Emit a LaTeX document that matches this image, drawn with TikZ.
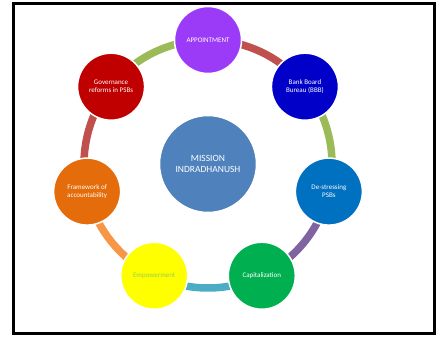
\documentclass[tikz,border=0pt]{standalone}
\usepackage{fontspec}
\setmainfont{Carlito}
\definecolor{cAppt}{HTML}{9B3BF7}
\definecolor{cBBB}{HTML}{0000C8}
\definecolor{cDes}{HTML}{0070C0}
\definecolor{cCap}{HTML}{00B050}
\definecolor{cEmp}{HTML}{FFFF00}
\definecolor{cEmpText}{HTML}{92D050}
\definecolor{cFra}{HTML}{E46C0A}
\definecolor{cGov}{HTML}{C00000}
\definecolor{cMid}{HTML}{4F81BD}
\definecolor{aRed}{HTML}{C0504D}
\definecolor{aGreen}{HTML}{9BBB59}
\definecolor{aPurple}{HTML}{8064A2}
\definecolor{aAqua}{HTML}{4BACC6}
\definecolor{aOrange}{HTML}{F79646}
\begin{document}
\begin{tikzpicture}[x=1pt,y=1pt,
  item/.style={circle,draw=white,line width=1.5pt,minimum size=67pt,inner sep=0pt,
    align=center,text=white,font=\fontsize{7}{8}\selectfont},
  hub/.style={circle,draw=white,line width=1.5pt,minimum size=97pt,inner sep=0pt,
    align=center,text=white,font=\fontsize{9.5}{11.5}\selectfont},
  band/.style={line width=7.5pt}]
\useasboundingbox (0,0) rectangle (441,337);
\fill[white] (0,0) rectangle (441,337);
\draw[line width=3pt] (13.5,3.5) rectangle (434.5,333.5);
\coordinate (O) at (208,173);
\def\RR{124pt}
\path (O) ++(90:\RR) coordinate (pA);
\path (O) ++(38.571:\RR) coordinate (pB);
\path (O) ++(-12.857:\RR) coordinate (pD);
\path (O) ++(-64.286:\RR) coordinate (pC);
\path (O) ++(-115.714:\RR) coordinate (pE);
\path (O) ++(-167.143:\RR) coordinate (pF);
\path (O) ++(141.429:\RR) coordinate (pG);
% bands
\draw[band,aRed] (pA) arc[start angle=90,end angle=38.571,radius=\RR];
\draw[band,aGreen] (pB) arc[start angle=38.571,end angle=-12.857,radius=\RR];
\draw[band,aPurple] (pD) arc[start angle=-12.857,end angle=-64.286,radius=\RR];
\draw[band,aAqua] (pC) arc[start angle=-64.286,end angle=-115.714,radius=\RR];
\draw[band,aOrange] (pE) arc[start angle=-115.714,end angle=-167.143,radius=\RR];
\draw[band,aRed] (pF) arc[start angle=-167.143,end angle=-218.571,radius=\RR];
\draw[band,aGreen] (pG) arc[start angle=141.429,end angle=90,radius=\RR];
% circles
\node[hub,fill=cMid] (mid) at (O) {MISSION\\INDRADHANUSH};
\node[item,fill=cAppt] (A) at (pA) {APPOINTMENT};
\node[item,fill=cBBB] (B) at (pB) {Bank Board\\Bureau (BBB)};
\node[item,fill=cDes] (D) at (pD) {De-stressing\\PSBs};
\node[item,fill=cCap] (C) at (pC) {Capitalization};
\node[item,fill=cEmp,text=cEmpText] (E) at (pE) {Empowerment};
\node[item,fill=cFra] (F) at (pF) {Framework of\\accountability};
\node[item,fill=cGov] (G) at (pG) {Governance\\reforms in PSBs};
\end{tikzpicture}
\end{document}
